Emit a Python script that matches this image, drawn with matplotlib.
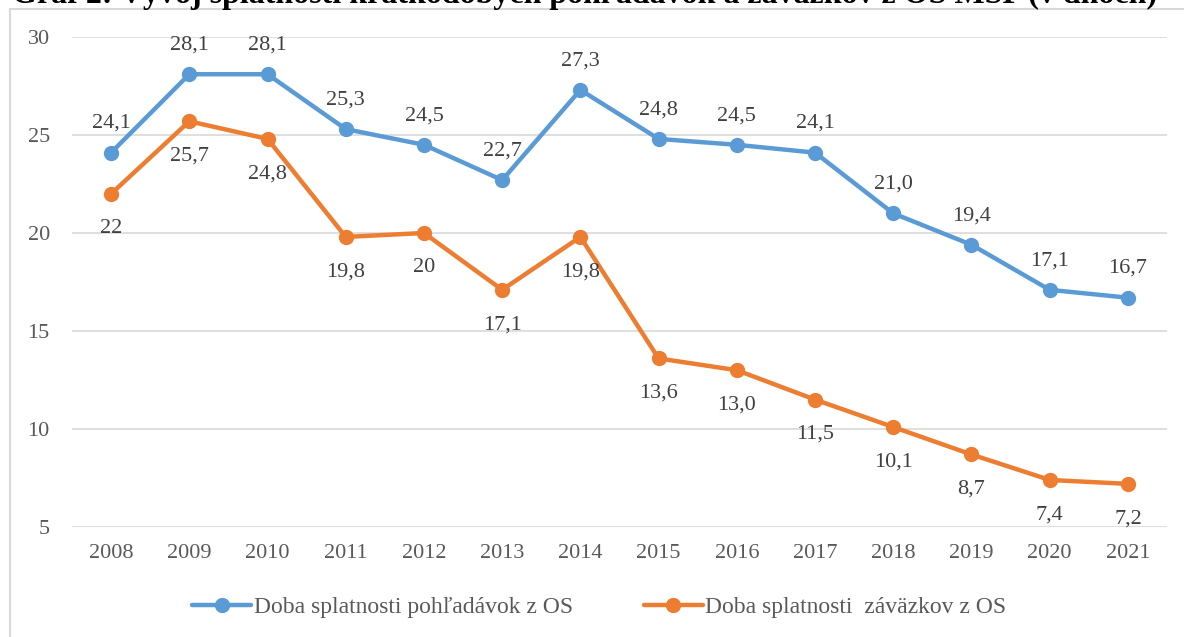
import matplotlib.pyplot as plt
from matplotlib.patches import Rectangle
import numpy as np

plt.rcParams['font.family'] = ['Liberation Serif', 'DejaVu Serif']

# Data
years = ['2008', '2009', '2010', '2011', '2012', '2013', '2014',
         '2015', '2016', '2017', '2018', '2019', '2020', '2021']
pohladavky = [24.1, 28.1, 28.1, 25.3, 24.5, 22.7, 27.3, 24.8, 24.5, 24.1, 21.0, 19.4, 17.1, 16.7]
zavazky = [22, 25.7, 24.8, 19.8, 20, 17.1, 19.8, 13.6, 13.0, 11.5, 10.1, 8.7, 7.4, 7.2]
lab_pohl = ['24,1', '28,1', '28,1', '25,3', '24,5', '22,7', '27,3', '24,8', '24,5', '24,1', '21,0', '19,4', '17,1', '16,7']
lab_zav = ['22', '25,7', '24,8', '19,8', '20', '17,1', '19,8', '13,6', '13,0', '11,5', '10,1', '8,7', '7,4', '7,2']
yticks = [5, 10, 15, 20, 25, 30]

blue = '#5B9BD5'
orange = '#ED7D31'
text_col = '#595959'

fig = plt.figure(figsize=(11.84, 6.37), dpi=100)
ax = fig.add_axes([72 / 1184, 1 - 527 / 637, (1167 - 72) / 1184, (527 - 37) / 637])

# Frame around the chart
fig.patches.append(Rectangle((10 / 1184, -0.01), 1.05, 1 - 9 / 637 + 0.01,
                             transform=fig.transFigure, fill=False,
                             edgecolor='#D9D9D9', linewidth=1.5))

# Title (partially cut off at the top, as in the source)
fig.text(0.494, 1 - 3 / 637, 'Graf 2: Vývoj splatnosti krátkodobých pohľadávok a záväzkov z OS MSP (v dňoch)',
         ha='center', va='baseline', fontsize=23, fontweight='bold', color='black')

x = np.arange(len(years))
ax.plot(x, pohladavky, color=blue, linewidth=3.2, marker='o', markersize=10,
        label='Doba splatnosti pohľadávok z OS', solid_capstyle='round')
ax.plot(x, zavazky, color=orange, linewidth=3.2, marker='o', markersize=10,
        label='Doba splatnosti  záväzkov z OS', solid_capstyle='round')

# Data labels: receivables above, payables below
for i in range(len(x)):
    ax.annotate(lab_pohl[i], (x[i], pohladavky[i]), xytext=(0, 21), textcoords='offset points',
                ha='center', va='center', fontsize=16, color='#404040')
    ax.annotate(lab_zav[i], (x[i], zavazky[i]), xytext=(0, -25), textcoords='offset points',
                ha='center', va='center', fontsize=16, color='#404040')

ax.set_xlim(-0.5, len(years) - 0.5)
ax.set_ylim(5, 30)
ax.set_yticks(yticks)
ax.set_xticks(x)
ax.set_xticklabels(years)
ax.tick_params(axis='both', length=0, labelsize=16, labelcolor=text_col)
ax.tick_params(axis='y', pad=16)
ax.tick_params(axis='x', pad=12)
ax.grid(axis='y', color='#D9D9D9', linewidth=1.2)
ax.set_axisbelow(True)
for s in ax.spines.values():
    s.set_visible(False)

leg = fig.legend(loc='center', bbox_to_anchor=(0.506, 1 - 607 / 637), ncol=2, frameon=False,
                 fontsize=17, handlelength=2.5, columnspacing=3.0, handletextpad=0.1)
for t in leg.get_texts():
    t.set_color(text_col)

fig.savefig('out.png', dpi=100)
